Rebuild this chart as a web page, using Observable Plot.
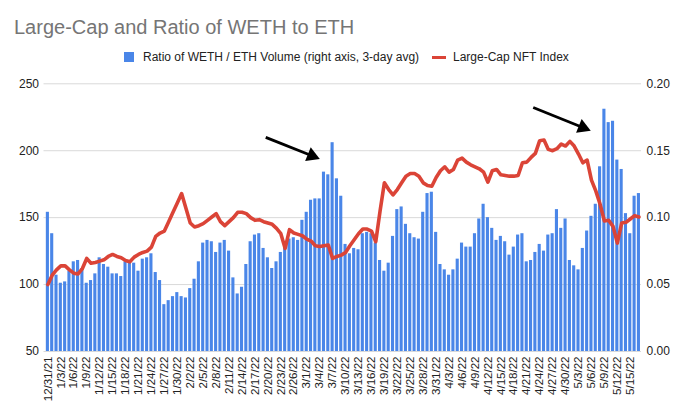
<!DOCTYPE html>
<html>
<head>
<meta charset="utf-8">
<script src="https://cdn.jsdelivr.net/npm/d3@7"></script>
<script src="https://cdn.jsdelivr.net/npm/@observablehq/plot@0.6"></script>
<style>
  html, body { margin: 0; padding: 0; background: #fff; }
  #wrap { position: relative; width: 680px; height: 415px; font-family: "Liberation Sans", Arial, sans-serif; }
  #title { position: absolute; left: 14px; top: 16.5px; font-size: 20px; line-height: 20px; color: #757575; white-space: nowrap; }
  #legend { position: absolute; top: 51px; left: 0; font-size: 12px; line-height: 12px; color: #222; white-space: nowrap; }
  .sw { position: absolute; }
  .lt { position: absolute; top: 0; }
  #chart { position: absolute; left: 0; top: 65px; }
</style>
</head>
<body>
<div id="wrap">
  <div id="title">Large-Cap and Ratio of WETH to ETH</div>
  <div id="legend">
    <div class="sw" style="left:123.5px; top:1px; width:10px; height:10px; background:#4a86e8;"></div>
    <div class="lt" style="left:143px;">Ratio of WETH / ETH Volume (right axis, 3-day avg)</div>
    <div class="sw" style="left:432px; top:4.5px; width:14px; height:3px; background:#db4437;"></div>
    <div class="lt" style="left:453px;">Large-Cap NFT Index</div>
  </div>
  <div id="chart"></div>
</div>
<script>
// Ratio of WETH / ETH volume (right axis), one value per day from 12/31/21
const ratio = [
  0.104,0.088,0.057,0.051,0.052,0.060,0.067,0.068,0.062,0.051,
  0.053,0.058,0.070,0.065,0.063,0.058,0.058,0.056,0.067,0.068,
  0.066,0.060,0.069,0.070,0.073,0.059,0.053,0.035,0.038,0.041,
  0.044,0.041,0.040,0.047,0.054,0.067,0.081,0.083,0.082,0.074,
  0.081,0.083,0.075,0.055,0.043,0.048,0.065,0.082,0.087,0.088,
  0.077,0.070,0.062,0.067,0.074,0.080,0.084,0.085,0.083,0.098,
  0.104,0.113,0.114,0.114,0.134,0.132,0.156,0.129,0.116,0.080,
  0.073,0.077,0.076,0.088,0.089,0.088,0.081,0.068,0.060,0.066,
  0.086,0.106,0.108,0.095,0.088,0.085,0.084,0.104,0.118,0.119,
  0.089,0.065,0.061,0.057,0.061,0.069,0.081,0.078,0.078,0.088,
  0.099,0.110,0.100,0.092,0.083,0.086,0.082,0.072,0.078,0.087,
  0.088,0.067,0.068,0.074,0.080,0.075,0.087,0.088,0.106,0.092,
  0.099,0.068,0.064,0.061,0.077,0.090,0.101,0.110,0.138,0.181,
  0.171,0.172,0.143,0.136,0.103,0.088,0.116,0.118
];
// Large-Cap NFT Index (left axis)
const nftIndex = [
  100,107,111,114,114,111,108.5,108,112,119.5,
  116,116.5,117.5,118.5,121,122.5,121,120,118,117,
  120.5,122.5,124,125,128,136,138.5,140,147,154,
  161,168,157,146,143,144,145.5,148,150.5,153,
  147,144,147,150,154,154,153,150,148,148.5,
  147,146,145,142,138,127,141,138.5,137.5,136.5,
  134,132.5,129,128.5,129,129.5,119.5,121,122,124,
  129,133.5,138,141.5,141.5,140,132,155,176,171,
  167,171,176,181,183,183,181,176,174,173.5,
  180,185,188,184,186,193,194.5,191.5,189.5,188,
  186.5,184,176.5,185,186,182,181.5,181,181,181.5,
  191,191.5,195,198,207.5,208,201,200,201.5,205,
  203.5,207,203.5,197.5,191,193,178,170,160,147.5,
  148,143.5,131,146,146.5,149,151.5,150.5
];
// x tick labels, every third day
const tickLabels = [
  "12/31/21","1/3/22","1/6/22","1/9/22","1/12/22","1/15/22","1/18/22","1/21/22","1/24/22","1/27/22",
  "1/30/22","2/2/22","2/5/22","2/8/22","2/11/22","2/14/22","2/17/22","2/20/22","2/23/22","2/26/22",
  "3/1/22","3/4/22","3/7/22","3/10/22","3/13/22","3/16/22","3/19/22","3/22/22","3/25/22","3/28/22",
  "3/31/22","4/3/22","4/6/22","4/9/22","4/12/22","4/15/22","4/18/22","4/21/22","4/24/22","4/27/22",
  "4/30/22","5/3/22","5/6/22","5/9/22","5/12/22","5/15/22"
];
const leftTicks = [50, 100, 150, 200, 250];
// annotation arrows (tail -> shaft end), in data units (day index, left-axis value)
const arrowTailX = [50.5, 112.5];
const arrowTailY = [210, 232.3];
const arrowHeadX = [61.2, 124.0];
const arrowHeadY = [196.2, 217.4];

const toLeft = r => 50 + r * 1000; // right axis 0..0.20 maps onto left 50..250
const data = ratio.map((r, i) => ({i, ratio: r, index: nftIndex[i]}));
const tickIdx = tickLabels.map((_, k) => k * 3);
const arrows = arrowTailX.map((x, k) => ({x1: x, y1: arrowTailY[k], x2: arrowHeadX[k], y2: arrowHeadY[k]}));

const chart = Plot.plot({
  width: 680,
  height: 350,
  marginLeft: 43.5,
  marginRight: 39,
  marginTop: 18.3,
  marginBottom: 64,
  style: {fontFamily: "'Liberation Sans', Arial, sans-serif", fontSize: "12px", color: "#222", background: "transparent", overflow: "visible"},
  x: {type: "linear", domain: [-0.9, 137.6], axis: null},
  y: {domain: [50, 250], axis: null},
  marks: [
    Plot.ruleY(leftTicks, {stroke: "#d9d9d9", strokeWidth: 1}),
    Plot.rectY(data, {x1: d => d.i - 0.36, x2: d => d.i + 0.36, y1: d => 50, y2: d => toLeft(d.ratio), fill: "#4a86e8"}),
    Plot.line(data, {x: "i", y: "index", stroke: "#db4437", strokeWidth: 3.6, strokeLinejoin: "round", strokeLinecap: "round"}),
    Plot.axisY(leftTicks, {anchor: "left", tickSize: 0, tickPadding: 5, label: null, fontSize: 12, fill: "#222"}),
    Plot.axisY(leftTicks, {anchor: "right", tickSize: 0, tickPadding: 5, label: null, fontSize: 12, fill: "#222",
      tickFormat: v => ((v - 50) / 1000).toFixed(2)}),
    Plot.axisX(tickIdx, {anchor: "bottom", tickSize: 0, tickPadding: 5, tickRotate: -90, label: null, fontSize: 11.5, fill: "#222",
      tickFormat: v => tickLabels[Math.round(v / 3)]}),
    Plot.link(arrows, {x1: "x1", y1: "y1", x2: "x2", y2: "y2", stroke: "#000", strokeWidth: 2.8}),
    Plot.dot(arrows, {x: "x2", y: "y2", symbol: "triangle", r: 5.5, fill: "#000", stroke: "none", rotate: 112})
  ]
});
document.getElementById("chart").appendChild(chart);
</script>
</body>
</html>
